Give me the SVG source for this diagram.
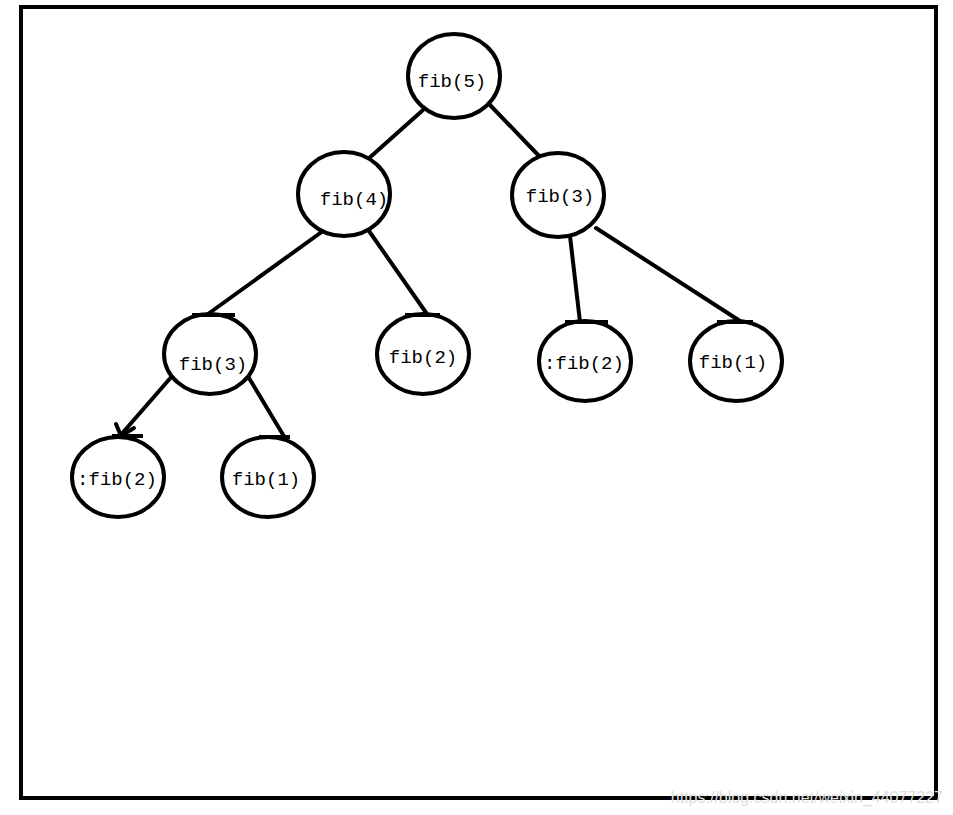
<svg xmlns="http://www.w3.org/2000/svg" width="953" height="815" viewBox="0 0 953 815">
<style>
.n{fill:#fff;stroke:#000;stroke-width:4}
.t{font-family:"Liberation Mono","DejaVu Sans Mono",monospace;font-size:19px;fill:#000}
.e{stroke:#000;stroke-width:4;fill:none;stroke-linecap:round}
.b{stroke:#000;stroke-width:4;fill:none}
</style>
<rect width="953" height="815" fill="#fff"/>
<rect x="21" y="7" width="915" height="791" fill="none" stroke="#000" stroke-width="4"/>
<g id="connectors">
<line class="e" x1="423" y1="110" x2="367" y2="160"/>
<line class="e" x1="490" y1="105" x2="540" y2="157"/>
<line class="e" x1="323" y1="231" x2="208" y2="314"/>
<line class="e" x1="369" y1="231" x2="427" y2="314"/>
<line class="e" x1="570" y1="236" x2="580" y2="322"/>
<line class="e" x1="596" y1="228" x2="740" y2="321"/>
<line class="e" x1="173" y1="375" x2="119" y2="437"/>
<line class="e" x1="249" y1="378" x2="285" y2="438"/>
<path class="e" d="M116 424 L121 436 L134 428"/>
</g>
<g id="fib5"><ellipse class="n" cx="454" cy="76" rx="46" ry="42"/><text class="t" x="452" y="87" text-anchor="middle">fib(5)</text></g>
<g id="fib4"><ellipse class="n" cx="344" cy="194" rx="46" ry="42"/><text class="t" x="354" y="205" text-anchor="middle">fib(4)</text></g>
<g id="fib3r"><ellipse class="n" cx="558" cy="195" rx="46" ry="42"/><text class="t" x="560" y="202" text-anchor="middle">fib(3)</text></g>
<g id="fib3l"><ellipse class="n" cx="210" cy="354" rx="46" ry="40"/><path class="b" d="M192 315 H235"/><text class="t" x="213" y="370" text-anchor="middle">fib(3)</text></g>
<g id="fib2m"><ellipse class="n" cx="423" cy="354" rx="46" ry="40"/><path class="b" d="M405 315 H440"/><text class="t" x="423" y="363" text-anchor="middle">fib(2)</text></g>
<g id="fib2r"><ellipse class="n" cx="585" cy="361" rx="46" ry="40"/><path class="b" d="M565 322 H608"/><text class="t" x="584" y="369" text-anchor="middle">:fib(2)</text></g>
<g id="fib1r"><ellipse class="n" cx="736" cy="361" rx="46" ry="40"/><path class="b" d="M717 322 H753"/><text class="t" x="733" y="368" text-anchor="middle">fib(1)</text></g>
<g id="fib2bl"><ellipse class="n" cx="118" cy="477" rx="46" ry="40"/><path class="b" d="M112 436 H143"/><text class="t" x="117" y="485" text-anchor="middle">:fib(2)</text></g>
<g id="fib1b"><ellipse class="n" cx="268" cy="477" rx="46" ry="40"/><path class="b" d="M259 437 H290"/><text class="t" x="266" y="485" text-anchor="middle">fib(1)</text></g>
<text x="943" y="803" text-anchor="end" font-family="Liberation Sans,Arial,sans-serif" font-size="16" fill="#e0e0e0">https://blog.csdn.net/weixin_44077227</text>
</svg>
